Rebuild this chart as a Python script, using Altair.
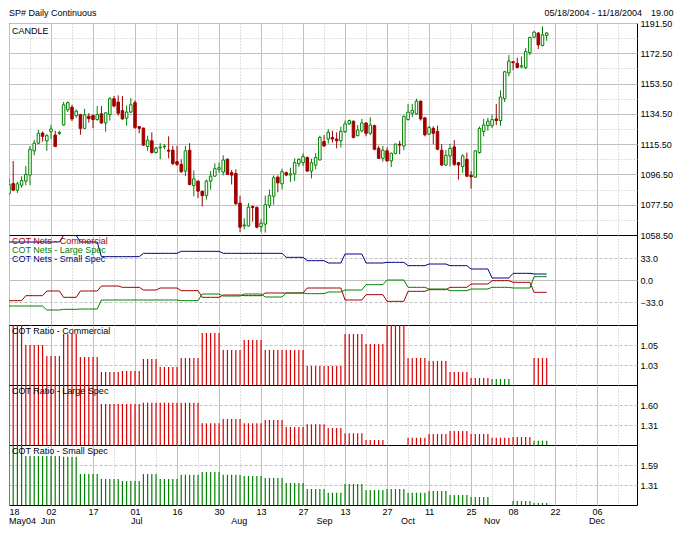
import json
import altair as alt
import pandas as pd

FONT = "Liberation Sans"
GRID = "#c0c0c0"
GREEN = "#008000"
DRED = "#a00000"
RED = "#d80000"
NAVY = "#000080"

N_DAYS = 129  # trading days 05/18/2004 .. 11/18/2004

OPEN = [1084.5, 1090.8, 1086.6, 1089.7, 1092.3, 1096.1, 1111.3, 1116.1, 1122.5, 1117.6,
        1123.3, 1121.2, 1122.3, 1127.5, 1137.0, 1138.7, 1133.4, 1134.1, 1125.4, 1133.0,
        1133.4, 1130.9, 1134.5, 1128.8, 1134.1, 1144.0, 1141.9, 1136.6, 1131.8, 1135.6,
        1141.5, 1126.5, 1125.6, 1114.0, 1117.6, 1110.2, 1113.2, 1113.8, 1111.7, 1111.7,
        1104.5, 1102.8, 1098.6, 1111.7, 1089.5, 1092.3, 1086.0, 1083.2, 1092.3, 1095.4,
        1099.7, 1098.0, 1106.0, 1097.6, 1097.1, 1078.5, 1064.2, 1064.2, 1076.4, 1075.8,
        1063.8, 1065.3, 1077.1, 1082.8, 1094.8, 1090.6, 1097.6, 1096.1, 1096.9, 1103.2,
        1103.9, 1107.1, 1098.6, 1102.4, 1105.6, 1117.2, 1118.7, 1119.7, 1118.7, 1117.6,
        1123.3, 1128.2, 1129.9, 1120.8, 1123.9, 1128.8, 1122.3, 1127.1, 1112.9, 1106.6,
        1111.3, 1105.0, 1109.6, 1115.5, 1114.4, 1130.9, 1134.9, 1134.5, 1142.5, 1132.0,
        1121.8, 1125.4, 1123.5, 1111.7, 1102.4, 1108.1, 1113.8, 1103.9, 1101.4, 1106.0,
        1095.9, 1094.8, 1110.2, 1123.5, 1127.1, 1127.1, 1131.3, 1130.3, 1144.0, 1160.2,
        1167.2, 1166.2, 1164.0, 1163.4, 1172.9, 1182.6, 1185.2, 1177.4, 1183.7]
HIGH = [1093.7, 1104.9, 1091.9, 1095.4, 1101.8, 1114.4, 1118.2, 1124.4, 1123.5, 1121.8,
        1127.5, 1123.9, 1123.9, 1141.9, 1142.3, 1140.2, 1137.2, 1134.5, 1137.7, 1135.0,
        1134.1, 1139.4, 1139.4, 1135.6, 1145.0, 1145.7, 1146.1, 1145.7, 1139.8, 1144.4,
        1142.9, 1126.7, 1125.8, 1120.8, 1122.9, 1113.8, 1116.1, 1115.5, 1120.4, 1114.4,
        1114.4, 1106.0, 1114.4, 1116.1, 1099.0, 1092.7, 1086.2, 1093.3, 1098.6, 1103.5,
        1103.9, 1108.5, 1106.6, 1099.2, 1099.7, 1083.2, 1069.0, 1078.5, 1076.9, 1076.4,
        1068.4, 1083.2, 1087.0, 1095.9, 1095.9, 1100.1, 1098.2, 1100.7, 1106.6, 1106.6,
        1109.8, 1107.7, 1106.4, 1109.8, 1120.8, 1121.2, 1125.0, 1123.9, 1122.9, 1126.5,
        1130.3, 1130.9, 1130.3, 1127.5, 1131.3, 1129.2, 1132.4, 1127.7, 1114.4, 1114.4,
        1113.4, 1110.2, 1115.9, 1117.6, 1133.4, 1140.8, 1140.8, 1144.0, 1142.7, 1132.4,
        1127.1, 1126.7, 1127.1, 1115.5, 1111.7, 1115.7, 1118.0, 1104.3, 1109.2, 1110.2,
        1098.6, 1111.7, 1126.5, 1131.3, 1132.0, 1133.9, 1140.8, 1149.3, 1161.5, 1171.4,
        1167.6, 1169.7, 1170.4, 1175.7, 1183.0, 1186.6, 1185.8, 1189.4, 1185.8]
LOW = [1083.8, 1086.0, 1084.9, 1088.1, 1089.7, 1089.7, 1108.5, 1115.5, 1117.0, 1111.3,
       1118.7, 1113.8, 1121.2, 1127.1, 1135.6, 1129.9, 1132.0, 1121.4, 1125.0, 1129.0,
       1125.6, 1130.3, 1128.2, 1123.3, 1130.3, 1138.7, 1133.4, 1130.9, 1127.1, 1134.9,
       1125.0, 1122.3, 1114.4, 1111.3, 1109.6, 1109.6, 1106.0, 1112.3, 1106.6, 1102.4,
       1101.8, 1097.5, 1095.4, 1089.7, 1082.8, 1081.7, 1076.4, 1080.7, 1087.0, 1095.0,
       1097.5, 1095.9, 1096.1, 1090.2, 1077.5, 1060.2, 1062.1, 1063.8, 1066.9, 1062.7,
       1060.2, 1060.0, 1075.4, 1077.5, 1085.3, 1087.0, 1095.4, 1091.7, 1092.3, 1101.3,
       1101.8, 1098.2, 1094.0, 1099.7, 1105.4, 1113.8, 1115.9, 1116.5, 1112.9, 1113.4,
       1122.5, 1127.5, 1119.1, 1120.4, 1122.9, 1120.4, 1121.2, 1111.7, 1106.4, 1104.5,
       1104.5, 1101.1, 1109.2, 1109.2, 1111.7, 1130.3, 1132.4, 1133.9, 1130.3, 1120.4,
       1121.2, 1115.5, 1111.7, 1101.8, 1101.8, 1101.5, 1101.8, 1093.3, 1097.5, 1094.8,
       1087.6, 1094.4, 1109.6, 1120.4, 1123.9, 1125.6, 1127.5, 1127.1, 1141.9, 1158.1,
       1161.9, 1163.0, 1163.0, 1162.6, 1171.4, 1182.0, 1175.2, 1176.7, 1180.3]
CLOSE = [1090.2, 1086.6, 1090.6, 1092.7, 1096.5, 1112.3, 1116.1, 1122.3, 1120.4, 1120.8,
         1125.0, 1114.0, 1122.9, 1140.2, 1141.5, 1131.3, 1136.2, 1125.4, 1133.9, 1131.5,
         1130.9, 1134.1, 1128.8, 1135.1, 1144.0, 1139.4, 1134.9, 1131.3, 1135.6, 1140.2,
         1126.0, 1125.4, 1114.9, 1118.0, 1110.2, 1113.0, 1113.6, 1114.2, 1111.1, 1103.3,
         1102.8, 1098.2, 1111.3, 1090.2, 1093.7, 1086.0, 1083.2, 1092.3, 1095.4, 1100.1,
         1100.7, 1105.6, 1096.5, 1096.1, 1078.1, 1063.4, 1064.8, 1076.0, 1075.8, 1063.4,
         1065.9, 1077.5, 1083.2, 1094.4, 1091.2, 1098.2, 1096.1, 1096.9, 1103.9, 1106.0,
         1107.7, 1098.6, 1103.9, 1107.1, 1119.7, 1114.4, 1122.9, 1118.7, 1117.6, 1123.5,
         1128.2, 1130.3, 1119.7, 1124.4, 1128.8, 1122.3, 1127.5, 1112.3, 1106.6, 1111.7,
         1105.0, 1109.8, 1115.5, 1114.9, 1133.0, 1135.6, 1136.6, 1142.5, 1131.3, 1121.4,
         1126.0, 1122.3, 1112.3, 1102.4, 1108.5, 1112.8, 1102.8, 1102.4, 1108.1, 1095.4,
         1095.0, 1111.3, 1125.4, 1127.5, 1129.9, 1130.9, 1130.3, 1145.0, 1160.9, 1167.6,
         1166.6, 1163.6, 1164.7, 1173.6, 1182.4, 1185.8, 1177.8, 1184.1, 1185.2]

# first trading-day index of each COT week
WEEK_START = [0, 4, 9, 13, 17, 22, 27, 32, 36, 41, 46, 51, 56, 61, 66, 71, 76, 80,
              85, 90, 95, 100, 105, 110, 115, 120, 125]

NET_COMMERCIAL = [-31.0, -23.5, -16.5, -26.0, -16.5, -9.0, -11.0, -15.0, -12.0, -16.0,
                  -26.0, -22.5, -23.5, -19.5, -19.5, -12.0, -12.0, -30.0, -22.0, -32.0,
                  -17.0, -14.5, -11.0, -6.0, -1.0, -3.5, -18.5]
NET_LARGE = [-39.0, -39.0, -45.0, -44.0, -43.5, -30.0, -30.0, -30.0, -30.0, -31.0,
             -21.0, -24.0, -21.0, -25.5, -19.5, -20.5, -18.0, -15.0, -7.0, 0.0,
             -11.0, -13.5, -16.0, -13.5, -11.0, -12.0, 5.0]
NET_SMALL = [57.0, 57.0, 57.0, 67.0, 57.0, 35.0, 35.0, 40.0, 40.0, 43.0,
             43.0, 40.0, 40.0, 40.0, 34.0, 29.0, 25.5, 39.0, 25.5, 26.5,
             21.5, 24.0, 21.5, 16.5, 3.0, 10.0, 9.0]

RATIO_COMMERCIAL = [1.075, 1.050, 1.039, 1.061, 1.038, 1.023, 1.024, 1.036, 1.028, 1.037,
                    1.062, 1.045, 1.055, 1.045, 1.045, 1.029, 1.029, 1.061, 1.051, 1.075,
                    1.037, 1.034, 1.023, 1.017, 1.016, None, 1.037]
RATIO_COMMERCIAL_CLR = ["r"] * 24 + ["g", "r", "r"]
RATIO_LARGE = [1.95, 1.95, 1.95, 1.95, 1.95, 1.615, 1.615, 1.633, 1.633, 1.633,
               1.335, 1.397, 1.335, 1.383, 1.281, 1.320, 1.267, 1.190, 1.093, None,
               1.126, 1.180, 1.223, 1.180, 1.126, 1.136, 1.083]
RATIO_LARGE_CLR = ["r"] * 26 + ["g"]
RATIO_SMALL = [1.90, 1.716, 1.716, 1.706, 1.464, 1.394, 1.366, 1.464, 1.394, 1.454,
               1.492, 1.454, 1.436, 1.408, 1.338, 1.254, 1.202, 1.324, 1.240, 1.254,
               1.202, 1.226, 1.170, 1.142, None, 1.086, 1.058]
RATIO_SMALL_CLR = ["g"] * 27

DAY_LABELS = ["18", "02", "17", "01", "16", "30", "13", "27", "13", "27", "11", "25",
              "08", "22", "06"]
FIRST_MONTH_LABEL = "May04"
FIRST_MONTH_POS = 0.0
MONTH_LABELS = ["Jun", "Jul", "Aug", "Sep", "Oct", "Nov", "Dec"]
MONTH_POS = [9.3, 30.4, 54.8, 75.1, 95.0, 115.0, 140.0]

CANDLE_TICKS = [1058.5, 1077.5, 1096.5, 1115.5, 1134.5, 1153.5, 1172.5, 1191.5]
NET_TICKS = [-33.0, 0.0, 33.0]
RC_TICKS = [1.03, 1.05]
RL_TICKS = [1.31, 1.60]
RS_TICKS = [1.31, 1.59]

COLOR_OF = {"up": GREEN, "down": DRED, "r": RED, "g": GREEN,
            "Commercial": DRED, "Large Spec": GREEN, "Small Spec": NAVY}

W = 628
X_SCALE = alt.Scale(domain=[0, 149.5], nice=False, zero=False)
X_GRID = list(range(0, 150, 5))
day_arr = "[" + ",".join("'%s'" % d for d in DAY_LABELS) + "]"
day_expr = "datum.value % 10 == 0 ? " + day_arr + "[floor(datum.value / 10)] : ''"
XDASH = {"condition": {"test": "datum.value % 10 != 0", "value": [1, 2]}, "value": []}


def x_axis(show):
    kw = dict(values=X_GRID, grid=True, gridColor=GRID, gridDash=XDASH, ticks=False,
              domain=False, title=None, labelOverlap=False)
    if show:
        kw.update(labels=True, labelExpr=day_expr, labelFlush=True, labelPadding=2,
                  tickSize=0)
    else:
        kw.update(labels=False)
    return alt.Axis(**kw)


def weekly_to_daily(weekly):
    out = []
    for i in range(N_DAYS):
        k = max(j for j, s in enumerate(WEEK_START) if s <= i)
        out.append(weekly[k])
    return out


def label(text, x, y, color="#000000", align="left"):
    return alt.Chart(pd.DataFrame({"t": [text]})).mark_text(
        align=align, baseline="middle", font=FONT, fontSize=9, color=color
    ).encode(x=alt.value(x), y=alt.value(y), text="t:N")


# ---------------- candle panel ----------------
cdf = pd.DataFrame({"i": list(range(N_DAYS)), "open": OPEN, "high": HIGH,
                    "low": LOW, "close": CLOSE})
cdf["dir"] = ["up" if c >= o else "down" for o, c in zip(cdf["open"], cdf["close"])]
cdf["line"] = [COLOR_OF[d] for d in cdf["dir"]]
cdf["fillc"] = ["#ffffff" if d == "up" else DRED for d in cdf["dir"]]
cdf["bot"] = cdf[["open", "close"]].min(axis=1)
cdf["top"] = cdf[["open", "close"]].max(axis=1)
cdf["x0"] = cdf["i"] - 0.3
cdf["x1"] = cdf["i"] + 0.3

mids = [(a + b) / 2 for a, b in zip(CANDLE_TICKS, CANDLE_TICKS[1:])]
major = json.dumps(CANDLE_TICKS)
c_axis = alt.Axis(
    values=sorted(CANDLE_TICKS + mids), orient="right", grid=True, gridColor=GRID,
    gridDash={"condition": {"test": "indexof(%s, datum.value) < 0" % major, "value": [1, 2]},
              "value": []},
    labelExpr="indexof(%s, datum.value) >= 0 ? format(datum.value, '.2f') : ''" % major,
    ticks=False, domain=False, title=None, labelOverlap=False, labelPadding=3)
c_scale = alt.Scale(domain=[1058.5, 1191.5], nice=False, zero=False)
xa_top = x_axis(False)

wick = alt.Chart(cdf).mark_rule(strokeWidth=1, clip=True).encode(
    x=alt.X("i:Q", scale=X_SCALE, axis=xa_top),
    y=alt.Y("low:Q", scale=c_scale, axis=c_axis),
    y2="high:Q",
    color=alt.Color("line:N", scale=None),
)
body = alt.Chart(cdf).mark_rect(strokeWidth=1, clip=True).encode(
    x=alt.X("x0:Q", scale=X_SCALE, axis=xa_top),
    x2="x1:Q",
    y=alt.Y("bot:Q", scale=c_scale, axis=c_axis),
    y2="top:Q",
    fill=alt.Fill("fillc:N", scale=None),
    stroke=alt.Stroke("line:N", scale=None),
)
candle = alt.layer(
    wick, body,
    label("CANDLE", 3, 8),
    label("SP# Daily Continuous", 0, -10),
    label("05/18/2004 - 11/18/2004", 633, -10, align="right"),
    label("19.00", 642, -10),
).properties(width=W, height=212)

# ---------------- COT nets panel ----------------
series = ["Commercial", "Large Spec", "Small Spec"]
rows = []
for name, weekly in zip(series, [NET_COMMERCIAL, NET_LARGE, NET_SMALL]):
    for i, v in enumerate(weekly_to_daily(weekly)):
        rows.append({"i": i, "v": v, "s": name, "col": COLOR_OF[name]})
ndf = pd.DataFrame(rows)
n_axis = alt.Axis(
    values=NET_TICKS, format=".1f", orient="right", grid=True, gridColor=GRID,
    gridDash={"condition": {"test": "datum.value != 0", "value": [3, 2]}, "value": []},
    ticks=False, domain=False, title=None, labelPadding=3, labelOverlap=False)
nets_line = alt.Chart(ndf).mark_line(strokeWidth=1, clip=True).encode(
    x=alt.X("i:Q", scale=X_SCALE, axis=x_axis(False)),
    y=alt.Y("v:Q", scale=alt.Scale(domain=[-67.5, 67.5], nice=False, zero=False), axis=n_axis),
    color=alt.Color("col:N", scale=None),
    detail="s:N",
)
nets = alt.layer(
    nets_line,
    label("COT Nets - Commercial", 3, 5.5, DRED),
    label("COT Nets - Large Spec", 3, 14.5, GREEN),
    label("COT Nets - Small Spec", 3, 23.5, NAVY),
).properties(width=W, height=90)


# ---------------- COT ratio panels ----------------
def ratio_panel(weekly, clrs, domain, ticks, title, bottom=False):
    vals = weekly_to_daily(weekly)
    cs = [COLOR_OF[c] for c in weekly_to_daily(clrs)]
    df = pd.DataFrame({"i": list(range(N_DAYS)), "v": vals, "c": cs})
    df = df[df["v"].notna()].copy()
    df["base"] = domain[0]
    xa = x_axis(bottom)
    ya = alt.Axis(values=ticks, format=".2f", orient="right", grid=True, gridColor=GRID,
                  gridDash=[3, 2], ticks=False, domain=False, title=None, labelPadding=3,
                  labelOverlap=False)
    bars = alt.Chart(df).mark_rule(strokeWidth=1.2, clip=True).encode(
        x=alt.X("i:Q", scale=X_SCALE, axis=xa),
        y=alt.Y("v:Q", scale=alt.Scale(domain=domain, nice=False, zero=False), axis=ya),
        y2="base:Q",
        color=alt.Color("c:N", scale=None),
    )
    layers = [bars, label(title, 3, 6)]
    if bottom:
        mdf = pd.DataFrame({"m": MONTH_LABELS, "p": MONTH_POS})
        months = alt.Chart(mdf).mark_text(
            font=FONT, fontSize=9, color="#000000", baseline="middle", align="center"
        ).encode(x=alt.X("p:Q", scale=X_SCALE, axis=xa), y=alt.value(76), text="m:N")
        fdf = pd.DataFrame({"m": [FIRST_MONTH_LABEL], "p": [FIRST_MONTH_POS]})
        first = alt.Chart(fdf).mark_text(
            font=FONT, fontSize=9, color="#000000", baseline="middle", align="left"
        ).encode(x=alt.X("p:Q", scale=X_SCALE, axis=xa), y=alt.value(76), text="m:N")
        layers += [months, first]
    return alt.layer(*layers).properties(width=W, height=60)


rc = ratio_panel(RATIO_COMMERCIAL, RATIO_COMMERCIAL_CLR, [1.01, 1.07], RC_TICKS,
                 "COT Ratio - Commercial")
rl = ratio_panel(RATIO_LARGE, RATIO_LARGE_CLR, [1.02, 1.89], RL_TICKS,
                 "COT Ratio - Large Spec")
rs = ratio_panel(RATIO_SMALL, RATIO_SMALL_CLR, [1.03, 1.87], RS_TICKS,
                 "COT Ratio - Small Spec", bottom=True)

chart = alt.vconcat(candle, nets, rc, rl, rs, spacing=0, bounds="flush").properties(
    padding=0, background="#ffffff"
).configure_view(stroke="#000000", strokeWidth=1).configure_axis(
    labelFont=FONT, labelFontSize=9, labelColor="#000000"
)

chart.save("out.html", embed_options={"renderer": "svg", "actions": False})
